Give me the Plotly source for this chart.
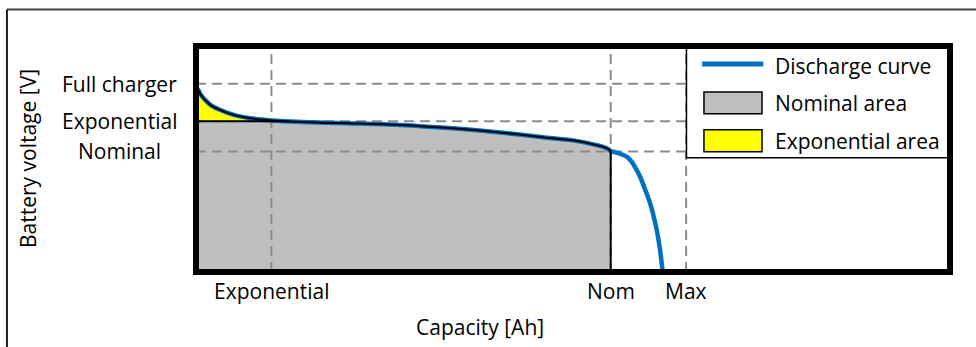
import numpy as np
import plotly.graph_objects as go

# ---- data ----
capacity = [0, 0.03, 0.06, 0.12, 0.2, 0.3, 0.42, 0.55, 0.72, 1.0, 1.4, 2.0, 2.7,
            3.4, 4.0, 4.6, 5.0, 5.3, 5.45, 5.5, 5.55, 5.6, 5.66, 5.72, 5.78, 5.84,
            5.89, 5.95, 6.02, 6.07, 6.11, 6.15, 6.19]
voltage = [9.83, 9.67, 9.43, 9.14, 8.85, 8.64, 8.45, 8.29, 8.16, 8.05, 7.97, 7.90, 7.81,
           7.63, 7.42, 7.16, 6.99, 6.75, 6.57, 6.42, 6.37, 6.31, 6.22, 6.10, 5.85, 5.45,
           5.06, 4.45, 3.68, 2.95, 2.25, 1.30, 0.0]

x_tick_vals = [1.0, 5.5, 6.5]
x_tick_text = ["Exponential", "Nom", "Max"]
y_tick_vals = [10.0, 8.0, 6.4]
y_tick_text = ["Full charger", "Exponential", "Nominal"]

legend_names = ["Discharge curve", "Nominal area", "Exponential area"]

x_range = [0, 10]
y_range = [0, 12]

# ---- styles ----
FONT = "Open Sans"
FS = 21
BLUE = "#0070C0"
GRAY = "#BFBFBF"
YELLOW = "#FFFF00"
GRID = "#8C8C8C"

cap = np.array(capacity)
v = np.array(voltage)
exp_cap, nom_cap = x_tick_vals[0], x_tick_vals[1]
exp_v = y_tick_vals[1]

# crossing of the curve with the exponential level
idx = np.where(v < exp_v)[0][0]
x_cross = cap[idx - 1] + (cap[idx] - cap[idx - 1]) * (v[idx - 1] - exp_v) / (v[idx - 1] - v[idx])
v_nom = float(np.interp(nom_cap, cap, v))

# nominal area polygon
mask_nom = (cap <= nom_cap) & (cap > x_cross)
gx = [0, 0, x_cross] + list(cap[mask_nom]) + [nom_cap, 0]
gy = [0, exp_v, exp_v] + list(v[mask_nom]) + [0, 0]

# exponential area polygon
mask_exp = v >= exp_v
ex = list(cap[mask_exp]) + [x_cross, 0, 0]
ey = list(v[mask_exp]) + [exp_v, exp_v, v[0]]

fig = go.Figure()
fig.add_trace(go.Scatter(x=gx, y=gy, fill="toself", fillcolor=GRAY, mode="none",
                         showlegend=False, hoverinfo="skip"))
fig.add_trace(go.Scatter(x=ex, y=ey, fill="toself", fillcolor=YELLOW, mode="none",
                         showlegend=False, hoverinfo="skip"))
# dashed gridlines
for xv in x_tick_vals:
    fig.add_trace(go.Scatter(x=[xv, xv], y=y_range, mode="lines",
                             line=dict(color=GRID, width=2, dash="10px,6px"),
                             showlegend=False, hoverinfo="skip"))
for yv in y_tick_vals:
    fig.add_trace(go.Scatter(x=x_range, y=[yv, yv], mode="lines",
                             line=dict(color=GRID, width=2, dash="10px,6px"),
                             showlegend=False, hoverinfo="skip"))
# discharge curve
fig.add_trace(go.Scatter(x=capacity, y=voltage, mode="lines",
                         line=dict(color=BLUE, width=4.5, shape="spline", smoothing=0.8),
                         name=legend_names[0], showlegend=False))
# outlines
mc = cap <= nom_cap
fig.add_trace(go.Scatter(x=cap[mc], y=v[mc], mode="lines",
                         line=dict(color="black", width=2, shape="spline", smoothing=0.8),
                         showlegend=False, hoverinfo="skip"))
fig.add_trace(go.Scatter(x=[0, x_cross], y=[exp_v, exp_v], mode="lines",
                         line=dict(color="black", width=2), showlegend=False, hoverinfo="skip"))
fig.add_trace(go.Scatter(x=[nom_cap, nom_cap], y=[v_nom, 0], mode="lines",
                         line=dict(color="black", width=2), showlegend=False, hoverinfo="skip"))

shapes = []
annotations = []
tf = dict(family=FONT, size=FS, color="black")

# y tick labels (centered)
for yv, t in zip(y_tick_vals, y_tick_text):
    annotations.append(dict(x=-0.1008, xref="paper", y=yv, yref="y", text=t,
                            showarrow=False, xanchor="center", yanchor="middle", font=tf))
# x tick labels
for xv, t in zip(x_tick_vals, x_tick_text):
    annotations.append(dict(x=xv, xref="x", y=-0.086, yref="paper", text=t,
                            showarrow=False, xanchor="center", yanchor="middle", font=tf))
# axis titles
annotations.append(dict(x=0.3767, xref="paper", y=-0.245, yref="paper", text="Capacity [Ah]",
                        showarrow=False, xanchor="center", yanchor="middle", font=tf))
annotations.append(dict(x=-0.2228, xref="paper", y=0.5, yref="paper", text="Battery voltage [V]",
                        showarrow=False, xanchor="center", yanchor="middle", textangle=-90, font=tf))

# legend (custom)
lx0, lx1, ly0, ly1 = 0.6505, 1.0, 0.5055, 1.0
shapes.append(dict(type="rect", xref="paper", yref="paper", x0=lx0, x1=lx1, y0=ly0, y1=ly1,
                   fillcolor="white", line=dict(color="black", width=1.5), layer="above"))
shapes.append(dict(type="line", xref="paper", yref="paper", x0=0.6713, x1=0.7523, y0=0.9205, y1=0.9205,
                   line=dict(color=BLUE, width=5), layer="above"))
shapes.append(dict(type="rect", xref="paper", yref="paper", x0=0.6737, x1=0.7507, y0=0.6998, y1=0.797,
                   fillcolor=GRAY, line=dict(color="black", width=1.5), layer="above"))
shapes.append(dict(type="rect", xref="paper", yref="paper", x0=0.6737, x1=0.7507, y0=0.532, y1=0.629,
                   fillcolor=YELLOW, line=dict(color="black", width=1.5), layer="above"))
for yy, t in zip([0.9117, 0.748, 0.5806], legend_names):
    annotations.append(dict(x=0.7653, xref="paper", y=yy, yref="paper", text=t, showarrow=False,
                            xanchor="left", yanchor="middle", font=tf))

# plot frame
shapes.append(dict(type="rect", xref="paper", yref="paper", x0=0, x1=1, y0=0, y1=1,
                   line=dict(color="black", width=6), fillcolor="rgba(0,0,0,0)", layer="above"))
# outer frame lines
shapes.append(dict(type="line", xref="paper", yref="paper", x0=-0.2507, x1=1.1, y0=1.1613, y1=1.1613,
                   line=dict(color="#404040", width=2), layer="above"))
shapes.append(dict(type="line", xref="paper", yref="paper", x0=-0.2507, x1=-0.2507, y0=1.1613, y1=-0.5,
                   line=dict(color="#202020", width=2), layer="above"))

fig.update_layout(
    width=976, height=347,
    margin=dict(l=196, r=26, t=46, b=75),
    paper_bgcolor="white", plot_bgcolor="white",
    xaxis=dict(range=x_range, showgrid=False, zeroline=False, showticklabels=False,
               showline=False, ticks=""),
    yaxis=dict(range=y_range, showgrid=False, zeroline=False, showticklabels=False,
               showline=False, ticks=""),
    shapes=shapes, annotations=annotations, showlegend=False,
    font=tf,
)

fig.write_html("out.html")
